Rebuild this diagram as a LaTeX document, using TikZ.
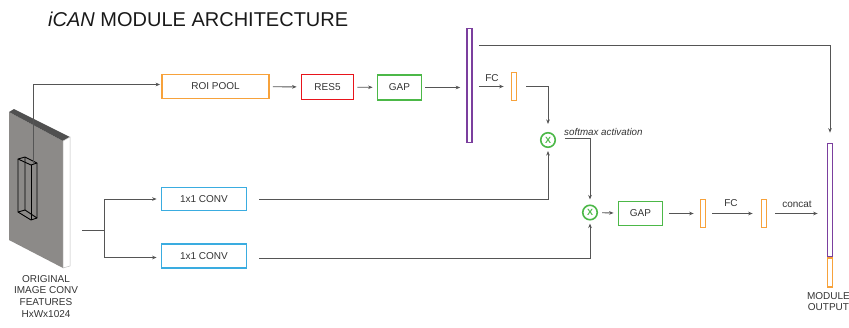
\documentclass[tikz,border=0pt]{standalone}
\usepackage{fontspec}
\setmainfont{Liberation Sans}
\usetikzlibrary{arrows.meta}
\definecolor{cOrange}{HTML}{F7A23B}
\definecolor{cRed}{HTML}{E8141B}
\definecolor{cGreen}{HTML}{4CB848}
\definecolor{cBlue}{HTML}{3AACE0}
\definecolor{cPurple}{HTML}{7B3F9E}
\definecolor{cInk}{HTML}{333333}
\definecolor{cLine}{HTML}{555555}
\definecolor{cSlab}{HTML}{8C8A88}
\definecolor{cSlabTop}{HTML}{505050}

\begin{document}
\begin{tikzpicture}[x=1pt,y=-1pt,
  lbl/.style={font=\fontsize{10}{11.7}\selectfont, text=cInk},
  blk/.style={draw, line width=1.8pt, inner sep=0pt, lbl},
  vbar/.style={draw, line width=1.7pt, inner sep=0pt, minimum width=5pt},
  conn/.style={draw=cLine, line width=0.9pt},
  arr/.style={conn, -{Stealth[length=4.5pt,width=3.6pt]}},
  xnode/.style={circle, draw=cGreen, line width=1.6pt, minimum size=14.5pt,
    inner sep=0pt, text=cGreen, font=\fontsize{9}{9}\selectfont\bfseries},
]
\useasboundingbox (0,0) rectangle (849,327);

% title
\node[anchor=base west, font=\fontsize{20}{22}\selectfont, text=black!90, inner sep=0pt]
  (title) at (48,26) {\textit{iCAN} MODULE ARCHITECTURE};

% feature slab
\fill[cSlab] (9,112) -- (63,141) -- (63,268) -- (9,240) -- cycle;
\fill[cSlabTop] (9,112) -- (14,109) -- (70,137) -- (63,141) -- cycle;
\filldraw[fill=white, draw=black!25, line width=0.5pt] (63,141) -- (70,137) -- (70,266) -- (63,268) -- cycle;

% box of the region inside the slab
\begin{scope}[draw=black, line width=0.9pt, line join=round]
  \draw (18,159) -- (25,157) -- (37,163) -- (31,165) -- cycle;
  \draw (18,159) -- (18,212) -- (31,220) -- (37,218) -- (37,163);
  \draw (31,165) -- (31,220);
  \draw (25,157) -- (25,210) -- (18,212);
  \draw (25,210) -- (37,218);
\end{scope}
\coordinate (cube) at (33,164);

\node[lbl, align=center, inner sep=0pt, anchor=north] (srclbl) at (46,275)
  {ORIGINAL\\IMAGE CONV\\FEATURES\\HxWx1024};

% upper branch
\node[blk, draw=cOrange, minimum width=107pt, minimum height=24pt] (roi) at (215.5,86.5) {ROI POOL};
\node[blk, draw=cRed, minimum width=52pt, minimum height=25pt] (res5) at (327.5,87) {RES5};
\node[blk, draw=cGreen, minimum width=44pt, minimum height=25pt] (gap1) at (399.5,87.5) {GAP};
\node[vbar, draw=cPurple, minimum height=114pt] (purp) at (469.5,85.5) {};
\node[vbar, draw=cOrange, minimum height=28pt] (fcbar) at (514,86.5) {};
\node[xnode] (x1) at (548,140) {X};

% lower branch
\node[blk, draw=cBlue, minimum width=85pt, minimum height=23pt] (conv1) at (204,199) {1x1 CONV};
\node[blk, draw=cBlue, minimum width=85pt, minimum height=24pt] (conv2) at (204,256) {1x1 CONV};
\node[xnode] (x2) at (590,212.5) {X};
\node[blk, draw=cGreen, minimum width=44pt, minimum height=24pt] (gap2) at (640.5,213.5) {GAP};
\node[vbar, draw=cOrange, minimum height=28pt] (ob1) at (703,213.5) {};
\node[vbar, draw=cOrange, minimum height=28pt] (ob2) at (764,213.5) {};

% module output bar
\node[vbar, draw=cPurple, minimum height=113pt] (outp) at (830,200) {};
\node[vbar, draw=cOrange, minimum height=29pt, anchor=north] (outo) at (outp.south) {};
\node[lbl, align=center, inner sep=0pt, anchor=north] (outlbl) at (828.5,292) {MODULE\\OUTPUT};

% connectors
\draw[arr, shorten >=1pt] (cube) |- ([yshift=2pt]roi.west);
\draw[arr, shorten <=3pt, shorten >=4pt] (roi) -- (res5);
\draw[arr, shorten <=3pt, shorten >=4pt] (res5) -- (gap1);
\draw[arr, shorten <=3pt, shorten >=6pt] (gap1.east) -- (purp.west |- gap1.east);
\draw[arr, shorten <=6pt, shorten >=7pt] (purp.east |- fcbar.west) -- (fcbar.west);
\draw[arr, shorten <=9pt, shorten >=8pt] (fcbar.east) -| (x1.north);
\draw[arr, shorten <=6pt, shorten >=10pt] ([yshift=-18pt]purp.north east) -| (outp.north);

\coordinate (slabR) at (82,230);
\coordinate (br) at (104,230);
\draw[conn] (slabR) -- (br);
\draw[arr, shorten >=4pt] (br) |- (conv1.west);
\draw[arr, shorten >=4pt] (br) |- ([yshift=-1.5pt]conv2.west);

\draw[arr, shorten <=12pt, shorten >=3pt] (conv1.east) -| (x1.south);
\draw[arr, shorten <=12pt, shorten >=3pt] ([yshift=-2pt]conv2.east) -| (x2.south);
\draw[arr, shorten <=9pt, shorten >=5pt] ([yshift=2pt]x1.east) -| (x2.north);

\draw[arr, shorten <=4pt, shorten >=4pt] (x2) -- (gap2);
\draw[arr, shorten <=6pt, shorten >=6pt] (gap2.east) -- (ob1.west);
\draw[arr, shorten <=6pt, shorten >=8pt] (ob1.east) -- (ob2.west);
\draw[arr, shorten <=8pt, shorten >=9pt] (ob2.east) -- (outp.west |- ob2.east);

% labels on connectors
\node[lbl, anchor=base, inner sep=0pt] (fclbl1) at (492,81) {FC};
\node[lbl, anchor=base, inner sep=0pt] (fclbl2) at (731,206) {FC};
\node[lbl, anchor=base, inner sep=0pt] (catlbl) at (797,207) {concat};
\node[lbl, anchor=base west, inner sep=0pt, font=\fontsize{9.8}{11}\selectfont\itshape] (smlbl) at (564,135) {softmax activation};
\end{tikzpicture}
\end{document}
